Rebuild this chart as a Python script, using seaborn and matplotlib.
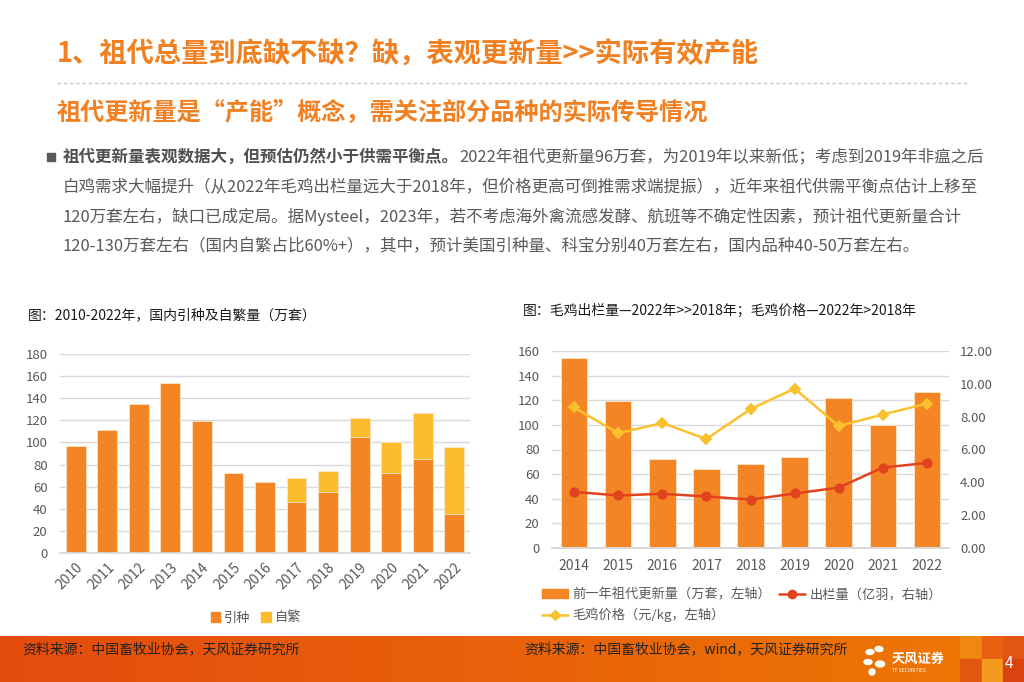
import numpy as np
import matplotlib
matplotlib.use("Agg")
import matplotlib.pyplot as plt
import seaborn as sns
from matplotlib.patches import Patch, Rectangle, Ellipse
from matplotlib.lines import Line2D
from matplotlib.text import Annotation
from matplotlib.colors import LinearSegmentedColormap

# ---- data ----
years_left = ["2010", "2011", "2012", "2013", "2014", "2015", "2016",
              "2017", "2018", "2019", "2020", "2021", "2022"]
yinzhong = [97, 111, 135, 154, 119, 72, 64, 46, 55, 105, 72, 85, 35]
zifan = [0, 0, 0, 0, 0, 0, 0, 22, 19, 17, 28, 42, 61]

years_right = ["2014", "2015", "2016", "2017", "2018", "2019", "2020", "2021", "2022"]
renewal = [154, 119, 72, 64, 68, 74, 122, 100, 127]
chulan = [3.42, 3.20, 3.30, 3.14, 2.95, 3.32, 3.68, 4.90, 5.18]
price = [8.56, 7.00, 7.61, 6.64, 8.46, 9.71, 7.43, 8.13, 8.80]

total_left = [a + b for a, b in zip(yinzhong, zifan)]

ORANGE = "#F48524"
YELLOW = "#FBBC2C"
RED = "#E2431F"
GOLD = "#FBC02D"
TITLE = "#F08021"
GRAY = "#595959"
GRID = "#D9D9D9"

sns.set_theme(style="white")
plt.rcParams["font.family"] = ["Noto Sans CJK SC", "DejaVu Sans"]

W, H = 1024, 682
fig = plt.figure(figsize=(W / 100, H / 100), dpi=100)


def fx(x):
    return x / W


def fy(y):
    return 1 - y / H


def box(x0, y0, x1, y1):
    return [fx(x0), fy(y1), fx(x1) - fx(x0), (y1 - y0) / H]


# ---- header ----
fig.text(fx(57), fy(55), "1、祖代总量到底缺不缺？缺，表观更新量>>实际有效产能",
         color=TITLE, fontsize=19.6, fontweight="bold", va="center")
fig.add_artist(Line2D([fx(57), fx(967)], [fy(83), fy(83)], color="#C8C8C8",
                      lw=1, linestyle=(0, (2.5, 2))))
fig.text(fx(57), fy(113), "祖代更新量是“产能”概念，需关注部分品种的实际传导情况",
         color=TITLE, fontsize=17.4, fontweight="bold", va="center")

fig.add_artist(Rectangle((fx(47), fy(161)), fx(8), 8 / H, color=GRAY))
b = fig.text(fx(63), fy(157), "祖代更新量表观数据大，但预估仍然小于供需平衡点。",
             color="#505050", fontsize=11.9, fontweight="bold", va="center")
fig.add_artist(Annotation("2022年祖代更新量96万套，为2019年以来新低；考虑到2019年非瘟之后",
                          xy=(1, 0.5), xycoords=b, va="center", ha="left",
                          color=GRAY, fontsize=11.9, annotation_clip=False))
para = [
    "白鸡需求大幅提升（从2022年毛鸡出栏量远大于2018年，但价格更高可倒推需求端提振），近年来祖代供需平衡点估计上移至",
    "120万套左右，缺口已成定局。据Mysteel，2023年，若不考虑海外禽流感发酵、航班等不确定性因素，预计祖代更新量合计",
    "120-130万套左右（国内自繁占比60%+），其中，预计美国引种量、科宝分别40万套左右，国内品种40-50万套左右。",
]
for i, line in enumerate(para):
    fig.text(fx(63), fy(187 + 30 * i), line, color=GRAY, fontsize=11.9, va="center")

# ---- left chart ----
ax1 = fig.add_axes(box(60, 354, 470, 553))
sns.barplot(x=years_left, y=total_left, color=YELLOW, saturation=1, width=0.63,
            edgecolor="#FDE6C8", linewidth=0.6, ax=ax1)
sns.barplot(x=years_left, y=yinzhong, color=ORANGE, saturation=1, width=0.63,
            edgecolor="#FDE6C8", linewidth=0.6, ax=ax1)
ax1.set_ylim(0, 180)
ax1.set_yticks(range(0, 181, 20))
ax1.set_xlim(-0.5, len(years_left) - 0.5)
ax1.yaxis.grid(True, color=GRID, lw=1)
ax1.set_axisbelow(True)
for s in ["top", "right", "left"]:
    ax1.spines[s].set_visible(False)
ax1.spines["bottom"].set_color(GRID)
ax1.tick_params(axis="both", length=0, labelcolor=GRAY, labelsize=9.5)
ax1.tick_params(axis="y", pad=9)
ax1.tick_params(axis="x", pad=5, labelsize=10)
plt.setp(ax1.get_xticklabels(), rotation=45, ha="right", rotation_mode="anchor")
ax1.set_xlabel("")
ax1.set_ylabel("")

fig.text(fx(28), fy(315), "图：2010-2022年，国内引种及自繁量（万套）",
         color="#1a1a1a", fontsize=10, va="center")
fig.legend(handles=[Patch(color=ORANGE, label="引种"), Patch(color=YELLOW, label="自繁")],
           loc="center", bbox_to_anchor=(fx(256), fy(618)), ncol=2, frameon=False,
           handlelength=0.7, handleheight=0.7, handletextpad=0.3, columnspacing=0.8,
           fontsize=9.5, labelcolor=GRAY)

# ---- right chart ----
ax2 = fig.add_axes(box(552, 351, 949, 548))
sns.barplot(x=years_right, y=renewal, color=ORANGE, saturation=1, width=0.6,
            edgecolor="#FDE6C8", linewidth=0.6, ax=ax2)
ax2.set_ylim(0, 160)
ax2.set_yticks(range(0, 161, 20))
ax2.yaxis.grid(True, color=GRID, lw=1)
ax2.set_axisbelow(True)
ax3 = ax2.twinx()
sns.pointplot(x=years_right, y=chulan, color=RED, marker="o", markersize=6,
              linewidth=1.8, errorbar=None, ax=ax3)
sns.pointplot(x=years_right, y=price, color=GOLD, marker="D", markersize=5,
              linewidth=1.8, errorbar=None, ax=ax3)
ax3.set_ylim(0, 12)
ax3.set_yticks(range(0, 13, 2))
ax3.set_yticklabels([f"{v:.2f}" for v in range(0, 13, 2)])
ax2.set_xlim(-0.5, len(years_right) - 0.5)
for a in (ax2, ax3):
    for s in ["top", "right", "left"]:
        a.spines[s].set_visible(False)
    a.spines["bottom"].set_color(GRID)
    a.tick_params(axis="both", length=0, labelcolor=GRAY, labelsize=9.5)
    a.set_xlabel("")
    a.set_ylabel("")
ax2.tick_params(axis="y", pad=9)
ax3.tick_params(axis="y", pad=8)
ax2.tick_params(axis="x", pad=8, labelsize=10)

fig.text(fx(523), fy(311), "图：毛鸡出栏量—2022年>>2018年；毛鸡价格—2022年>2018年",
         color="#1a1a1a", fontsize=10, va="center")
handles = [
    Patch(color=ORANGE, label="前一年祖代更新量（万套，左轴）"),
    Line2D([], [], color=GOLD, marker="D", markersize=5, lw=1.8, label="毛鸡价格（元/kg，左轴）"),
    Line2D([], [], color=RED, marker="o", markersize=6, lw=1.8, label="出栏量（亿羽，右轴）"),
]
fig.legend(handles=handles, loc="upper left", bbox_to_anchor=(fx(530), fy(576)), ncol=2,
           frameon=False, handlelength=2.0, handleheight=0.6, handletextpad=0.3,
           columnspacing=0.6, labelspacing=0.5, fontsize=9.5, labelcolor=GRAY)

# ---- footer ----
fax = fig.add_axes(box(0, 636, W, H))
cmap = LinearSegmentedColormap.from_list("band", ["#E44C0E", "#E9620A", "#EE7804"])
fax.imshow(np.linspace(0, 1, 256).reshape(1, -1), aspect="auto", cmap=cmap,
           extent=(0, W, 0, H - 636))
squares = [
    (960, 636, "#F0870E"), (982, 636, "#E7600F"), (1003, 636, "#E35512"),
    (960, 659, "#E3560F"), (982, 659, "#F39A1C"), (1003, 659, "#D9430F"),
]
for x0, y0, c in squares:
    fax.add_patch(Rectangle((x0, H - 636 - (y0 - 636) - 23), 22, 23, color=c))
fax.set_xlim(0, W)
fax.set_ylim(0, H - 636)
fax.axis("off")

fig.text(fx(22), fy(649), "资料来源：中国畜牧业协会，天风证券研究所",
         color="#222222", fontsize=10, va="center")
fig.text(fx(524), fy(649), "资料来源：中国畜牧业协会，wind，天风证券研究所",
         color="#222222", fontsize=10, va="center")
# logo
for (cx, cy, w, h, ang) in [(870, 652, 8, 5, 30), (879, 649, 8, 5, -40), (868, 662, 8, 5, 0),
                            (880, 664, 9, 6, 20), (872, 672, 6, 6, 0)]:
    fig.add_artist(Ellipse((fx(cx), fy(cy)), fx(w), h / H, angle=ang, color="white"))
fig.text(fx(892), fy(659), "天风证券", color="white", fontsize=9.5, fontweight="bold", va="center")
fig.text(fx(892), fy(670), "TF SECURITIES", color="white", fontsize=3.5, va="center")
fig.text(fx(1009), fy(664), "4", color="white", fontsize=11, va="center", ha="center")

fig.savefig("out.png", dpi=100, facecolor="white")
